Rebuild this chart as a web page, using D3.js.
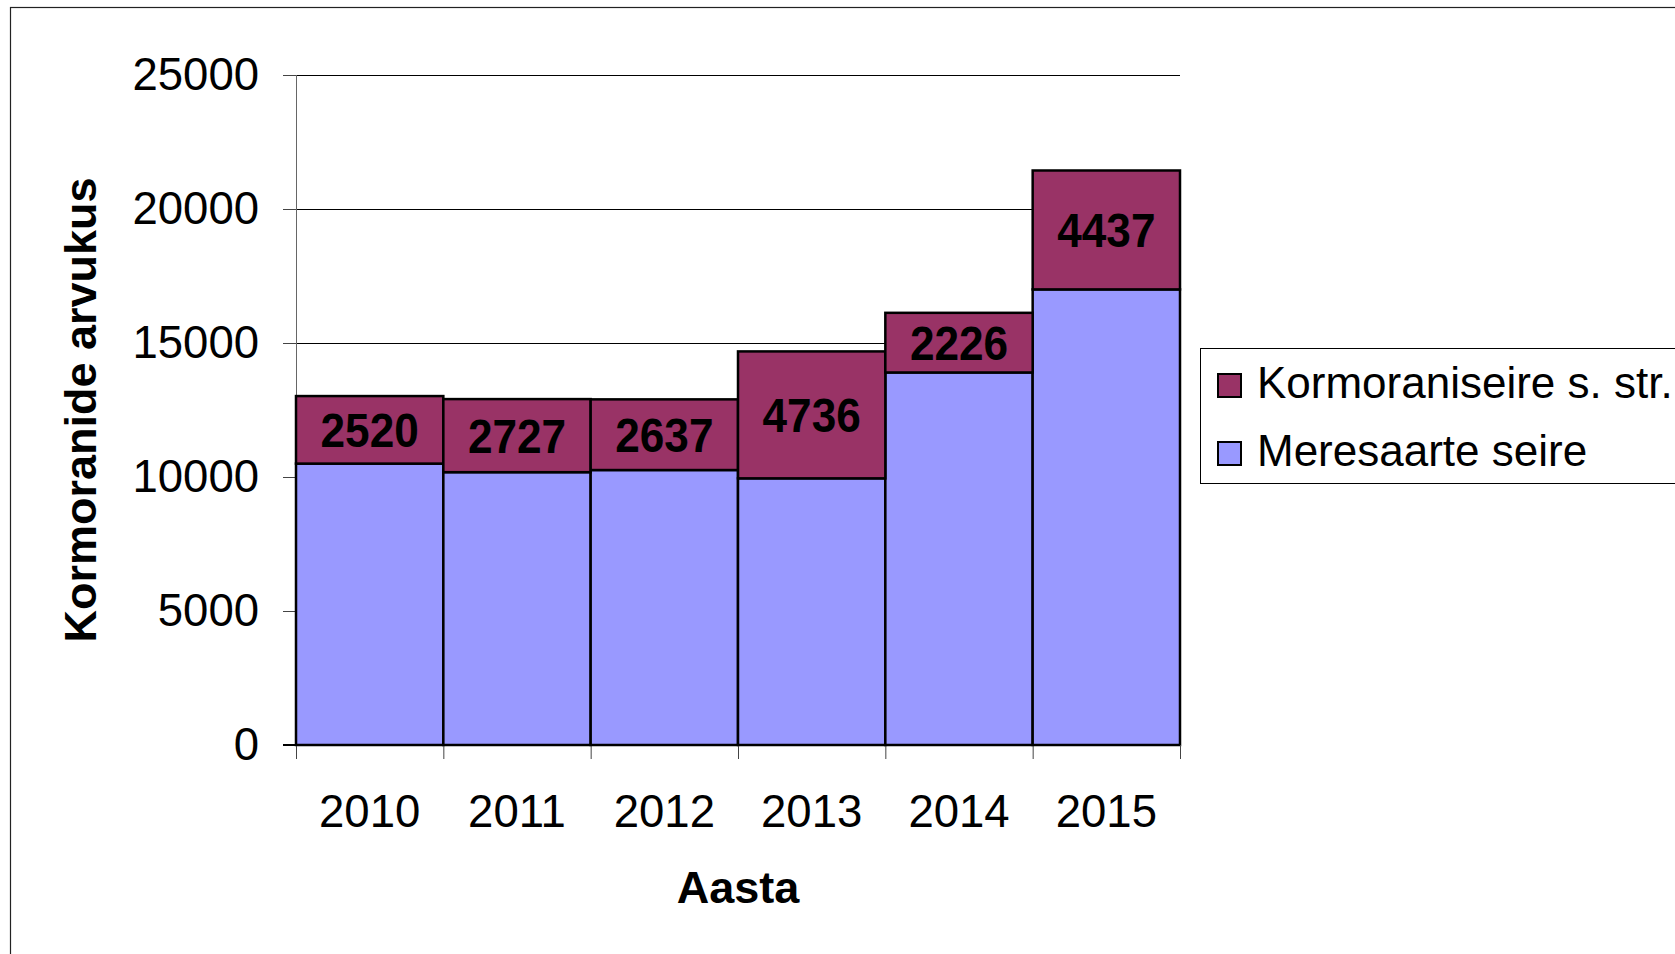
<!DOCTYPE html>
<html>
<head>
<meta charset="utf-8">
<script src="https://cdn.jsdelivr.net/npm/d3@7"></script>
<style>
  body { margin: 0; background: #fff; }
  svg { display: block; font-family: "Liberation Sans", Arial, sans-serif; }
</style>
</head>
<body>
<div id="chart"></div>
<script>
// data
var years = ["2010", "2011", "2012", "2013", "2014", "2015"];
var meresaarte = [10500, 10180, 10260, 9950, 13900, 17000];
var kormoran = [2520, 2727, 2637, 4736, 2226, 4437];
var seriesNames = ["Meresaarte seire", "Kormoraniseire s. str."];
var yTicks = [0, 5000, 10000, 15000, 20000, 25000];

var colors = {"Meresaarte seire": "#9999ff", "Kormoraniseire s. str.": "#993366"};

var W = 1675, H = 954;
var margin = {top: 75, left: 296};
var width = 1180 - 296;
var height = 745 - 75;

var svg = d3.select("#chart").append("svg")
    .attr("width", W)
    .attr("height", H);

// outer chart frame
svg.append("rect")
    .attr("x", 10.5).attr("y", 7.5)
    .attr("width", 1800).attr("height", 1200)
    .attr("fill", "none")
    .attr("stroke", "#222")
    .attr("stroke-width", 1.2);

var g = svg.append("g")
    .attr("transform", "translate(" + margin.left + "," + margin.top + ")");

var table = years.map(function(y, i) {
    return {year: y, "Meresaarte seire": meresaarte[i], "Kormoraniseire s. str.": kormoran[i]};
});

var x = d3.scaleBand().domain(years).range([0, width]).padding(0);
var y = d3.scaleLinear().domain([0, 25000]).range([height, 0]);

// gridlines
g.append("g")
    .attr("class", "grid")
    .call(d3.axisLeft(y).tickValues(yTicks.slice(1)).tickSize(-width).tickFormat(""))
    .call(function(s) {
        s.select(".domain").remove();
        s.selectAll("line").attr("stroke", "#000").attr("stroke-width", 1);
    });

// y axis
g.append("g")
    .call(d3.axisLeft(y).tickValues(yTicks).tickSize(13).tickPadding(24).tickFormat(d3.format("d")))
    .call(function(s) {
        s.select(".domain").attr("stroke", "#666").attr("d", "M0.5," + height + "V0");
        s.selectAll("line").attr("stroke", "#444");
        s.selectAll("text").attr("font-size", 45.5).attr("fill", "#000")
            .attr("font-family", "Liberation Sans, Arial, sans-serif");
    });

// stacked bars
var stack = d3.stack().keys(seriesNames);
var layers = stack(table);

var layer = g.selectAll(".layer")
    .data(layers)
    .enter().append("g")
    .attr("class", "layer")
    .attr("fill", function(d) { return colors[d.key]; });

layer.selectAll("rect")
    .data(function(d) { return d; })
    .enter().append("rect")
    .attr("x", function(d) { return x(d.data.year); })
    .attr("y", function(d) { return y(d[1]); })
    .attr("width", x.bandwidth())
    .attr("height", function(d) { return y(d[0]) - y(d[1]); })
    .attr("stroke", "#000")
    .attr("stroke-width", 2.5);

// value labels on top segment (slightly condensed bold)
var topLayer = layers[1];
g.selectAll(".vlabel")
    .data(topLayer)
    .enter().append("text")
    .attr("class", "vlabel")
    .attr("transform", function(d) {
        var cx = x(d.data.year) + x.bandwidth() / 2;
        var cy = (y(d[0]) + y(d[1])) / 2;
        return "translate(" + cx + "," + cy + ") scale(0.92,1)";
    })
    .attr("dy", "0.36em")
    .attr("text-anchor", "middle")
    .attr("font-size", 48)
    .attr("font-weight", "bold")
    .attr("fill", "#000")
    .text(function(d) { return d[1] - d[0]; });

// x axis labels
g.append("g")
    .attr("transform", "translate(0," + height + ")")
    .call(d3.axisBottom(x).tickSize(0).tickPadding(50))
    .call(function(s) {
        s.select(".domain").remove();
        s.selectAll("text").attr("font-size", 45.5).attr("fill", "#000")
            .attr("font-family", "Liberation Sans, Arial, sans-serif");
    });

// x tick marks at category boundaries
var bounds = years.map(function(d) { return x(d); }).concat([width]);
g.selectAll(".xtick")
    .data(bounds)
    .enter().append("line")
    .attr("x1", function(d) { return d + 0.5; })
    .attr("x2", function(d) { return d + 0.5; })
    .attr("y1", height)
    .attr("y2", height + 14)
    .attr("stroke", "#444");

g.append("line")
    .attr("x1", -13).attr("x2", width)
    .attr("y1", height).attr("y2", height)
    .attr("stroke", "#000").attr("stroke-width", 2);

// axis titles
svg.append("text")
    .attr("transform", "translate(" + 96 + "," + 410 + ") rotate(-90)")
    .attr("text-anchor", "middle")
    .attr("font-size", 45)
    .attr("font-weight", "bold")
    .text("Kormoranide arvukus");

svg.append("text")
    .attr("x", margin.left + width / 2)
    .attr("y", 903)
    .attr("text-anchor", "middle")
    .attr("font-size", 45)
    .attr("font-weight", "bold")
    .text("Aasta");

// legend
var legend = svg.append("g").attr("transform", "translate(1200,348)");
legend.append("rect")
    .attr("x", 0.5).attr("y", 0.5)
    .attr("width", 600).attr("height", 135)
    .attr("fill", "#fff")
    .attr("stroke", "#000")
    .attr("stroke-width", 1);

var legendOrder = ["Kormoraniseire s. str.", "Meresaarte seire"];
var item = legend.selectAll(".item")
    .data(legendOrder)
    .enter().append("g")
    .attr("class", "item")
    .attr("transform", function(d, i) { return "translate(18," + (26 + i * 68) + ")"; });

item.append("rect")
    .attr("width", 23).attr("height", 23)
    .attr("fill", function(d) { return colors[d]; })
    .attr("stroke", "#000")
    .attr("stroke-width", 2);

item.append("text")
    .attr("x", 39)
    .attr("y", 24)
    .attr("font-size", 44)
    .text(function(d) { return d; });
</script>
</body>
</html>
